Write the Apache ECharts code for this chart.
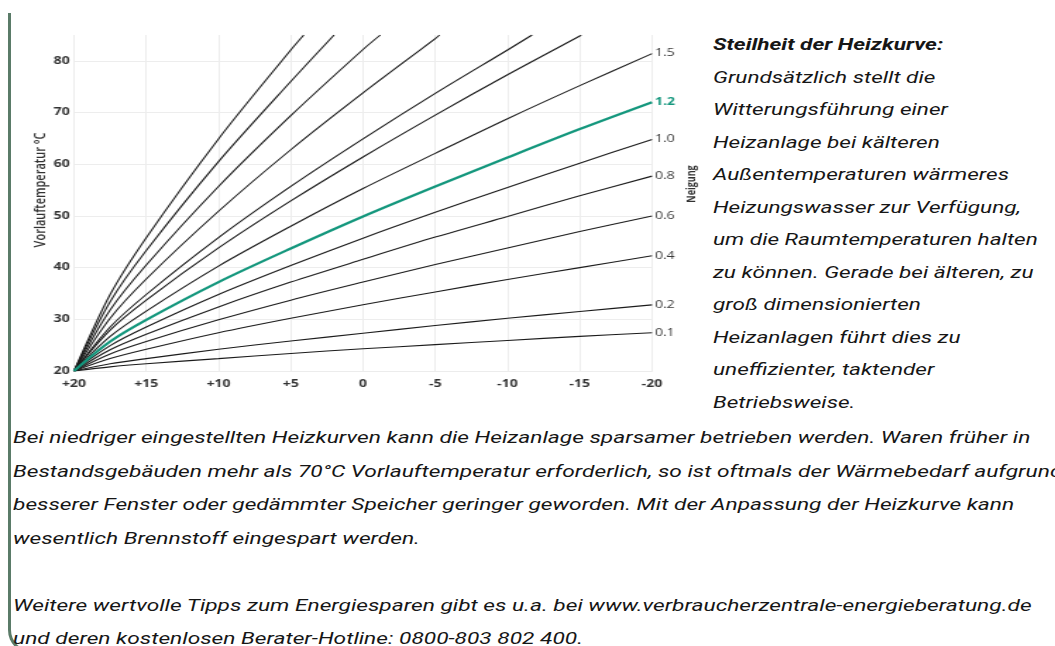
<!DOCTYPE html>
<html>
<head>
<meta charset="utf-8">
<script src="https://cdn.jsdelivr.net/npm/echarts@6.0.0/dist/echarts.min.js"></script>
<style>
  html, body { margin: 0; padding: 0; background: #fff; width: 1055px; height: 646px; overflow: hidden; }
  #frame { position: absolute; left: 8px; top: 13px; width: 1100px; height: 638px;
           border-left: 3px solid #5a7b68; border-bottom: 3px solid #5a7b68; border-bottom-left-radius: 24px; }
  /* die Vorlage ist waagerecht gestreckt, daher alles mit scaleX */
  #chart { position: absolute; left: 0; top: 0; width: 500px; height: 400px; transform: scaleX(1.41); transform-origin: 0 0; }
  .txt { position: absolute; font-family: Roboto, sans-serif; font-style: italic; color: #161616; white-space: nowrap;
         font-size: 16px; transform-origin: 0 0; }
  #side { left: 713px; top: 29px; line-height: 32.5px; transform: scaleX(1.41); }
  #bottom { left: 13px; top: 421px; line-height: 33.5px; transform: scaleX(1.42); }
</style>
</head>
<body>
<div id="frame"></div>
<div id="chart"></div>
<div id="side" class="txt"><b>Steilheit der Heizkurve:</b><br>Grundsätzlich stellt die<br>Witterungsführung einer<br>Heizanlage bei kälteren<br>Außentemperaturen wärmeres<br>Heizungswasser zur Verfügung,<br>um die Raumtemperaturen halten<br>zu können. Gerade bei älteren, zu<br>groß dimensionierten<br>Heizanlagen führt dies zu<br>uneffizienter, taktender<br>Betriebsweise.</div>
<div id="bottom" class="txt">Bei niedriger eingestellten Heizkurven kann die Heizanlage sparsamer betrieben werden. Waren früher in<br>Bestandsgebäuden mehr als 70°C Vorlauftemperatur erforderlich, so ist oftmals der Wärmebedarf aufgrund<br>besserer Fenster oder gedämmter Speicher geringer geworden. Mit der Anpassung der Heizkurve kann<br>wesentlich Brennstoff eingespart werden.<br><br>Weitere wertvolle Tipps zum Energiesparen gibt es u.a. bei www.verbraucherzentrale-energieberatung.de<br>und deren kostenlosen Berater-Hotline: 0800-803 802 400.</div>
<script>
const outsideTemp = [20, 17.5, 15, 10, 5, 0, -5, -10, -15, -20];

// beschriftete Kurven (Vorlauftemperatur °C)
const curve15 = [20, 26.7, 31.6, 40.3, 48.0, 55.3, 62.1, 68.8, 75.2, 81.4];
const curve12 = [20, 25.7, 29.9, 37.2, 43.7, 49.9, 55.7, 61.3, 66.8, 72.0];
const curve10 = [20, 24.9, 28.5, 34.8, 40.4, 45.7, 50.7, 55.5, 60.2, 64.8];
const curve08 = [20, 24.1, 27.1, 32.4, 37.2, 41.6, 45.9, 49.9, 53.9, 57.7];
const curve06 = [20, 23.3, 25.7, 29.9, 33.7, 37.2, 40.6, 43.8, 47.0, 50.0];
const curve04 = [20, 22.4, 24.2, 27.4, 30.2, 32.8, 35.3, 37.7, 40.0, 42.3];
const curve02 = [20, 21.4, 22.4, 24.2, 25.8, 27.3, 28.8, 30.2, 31.5, 32.8];
const curve01 = [20, 20.8, 21.4, 22.4, 23.4, 24.3, 25.1, 25.9, 26.7, 27.4];

// steile Kurven ohne Beschriftung, laufen oben aus dem Diagramm
const steep1 = [20, 27.9, 33.7, 43.8, 52.9, 61.4, 69.5, 77.3, 84.8];
const steep2 = [20, 28.5, 34.8, 45.8, 55.7, 64.9, 73.7, 82.1];
const steep3 = [20, 30.2, 37.8, 50.9, 62.8, 73.8, 84.3];
const steep4 = [20, 31.8, 40.5, 55.7, 69.4, 82.2];
const steep5 = [20, 33.4, 43.3, 60.5, 76.0];
const steep6 = [20, 34.8, 45.8, 64.9, 82.1];
// Außentemperatur, bei der die steilen Kurven den oberen Rand (85 °C) erreichen
const steepExitTemp = [-15.1, -11.7, -5.3, -1.2, 2.0, 4.1];
const yTop = 85;

const labelled = [
  ['1.5', curve15], ['1.2', curve12], ['1.0', curve10], ['0.8', curve08],
  ['0.6', curve06], ['0.4', curve04], ['0.2', curve02], ['0.1', curve01]
];
const steep = [steep1, steep2, steep3, steep4, steep5, steep6];

const SX = 1.41;   // horizontale Streckung
const BLACK = '#1c1c1c';
const GREEN = '#14977d';

let series = [];
steep.forEach(function (vals, i) {
  let data = vals.map(function (v, j) { return [outsideTemp[j], v]; });
  data.push([steepExitTemp[i], yTop]);
  series.push({
    name: 's' + i, type: 'line', data: data, showSymbol: false, smooth: 0.3,
    silent: true, lineStyle: { color: BLACK, width: 1.1 }, z: 2
  });
});
labelled.forEach(function (item) {
  let green = item[0] === '1.2';
  let vals = item[1];
  let data = vals.map(function (v, j) {
    if (j < vals.length - 1) return [outsideTemp[j], v];
    return {
      value: [outsideTemp[j], v],
      label: {
        show: true, position: 'right', distance: 2, formatter: item[0],
        fontSize: 10, fontFamily: 'Open Sans', color: green ? GREEN : '#3a3a3a', fontWeight: green ? 'bold' : 'normal'
      }
    };
  });
  series.push({
    name: item[0], type: 'line', data: data, showSymbol: true, symbolSize: 0, smooth: 0.3, silent: true,
    lineStyle: { color: green ? GREEN : BLACK, width: green ? 2.3 : 1.1 },
    z: green ? 5 : 3
  });
});

let chart = echarts.init(document.getElementById('chart'));
chart.setOption({
  animation: false,
  grid: { left: 74 / SX, top: 35, width: 578 / SX, height: 336 },
  xAxis: {
    type: 'value', min: -20, max: 20, interval: 5, inverse: true,
    axisLabel: {
      formatter: function (v) { return v > 0 ? '+' + v : String(v); },
      color: '#333', fontSize: 10, fontWeight: 'bold', fontFamily: 'Open Sans', margin: 8
    },
    axisLine: { lineStyle: { color: '#ececec' } },
    axisTick: { show: false },
    splitLine: { lineStyle: { color: '#ededed' } }
  },
  yAxis: {
    type: 'value', min: 20, max: yTop, interval: 10,
    axisLabel: { color: '#333', fontSize: 10, fontWeight: 'bold', fontFamily: 'Open Sans', margin: 3, showMaxLabel: false },
    axisLine: { show: false },
    axisTick: { show: false },
    splitLine: { lineStyle: { color: ['#ededed', '#ededed', '#ededed', '#ededed', '#ededed', '#ededed', '#ededed', 'rgba(0,0,0,0)'] } }
  },
  graphic: [
    { type: 'text', x: 40 / SX, y: 190, rotation: Math.PI / 2,
      style: { text: 'Vorlauftemperatur °C', font: '600 11px "Open Sans"', fill: '#333', align: 'center', verticalAlign: 'middle' } },
    { type: 'text', x: 692 / SX, y: 184, rotation: Math.PI / 2,
      style: { text: 'Neigung', font: 'bold 9px "Open Sans"', fill: '#333', align: 'center', verticalAlign: 'middle' } }
  ],
  series: series
});
</script>
</body>
</html>
